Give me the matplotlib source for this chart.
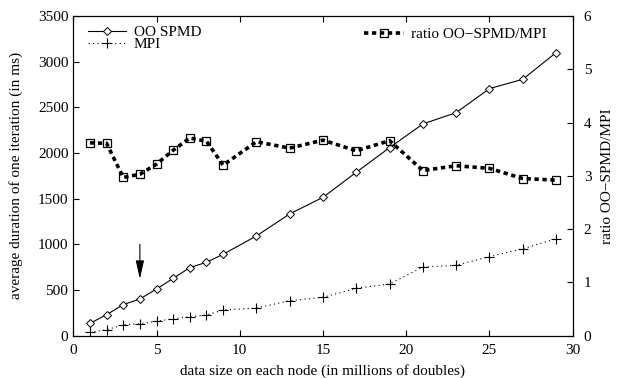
import matplotlib
matplotlib.use("Agg")
import matplotlib.pyplot as plt

plt.rcParams['font.family'] = ['Liberation Serif', 'DejaVu Serif']
plt.rcParams['font.size'] = 11

# --- data ---
sizes = [1, 2, 3, 4, 5, 6, 7, 8, 9, 11, 13, 15, 17, 19, 21, 23, 25, 27, 29]
oo_spmd = [135, 230, 340, 402, 511, 628, 745, 804, 891, 1092, 1333, 1515,
           1789, 2059, 2318, 2442, 2705, 2807, 3099]
mpi = [37, 65, 120, 131, 157, 186, 205, 227, 281, 303, 383, 420,
       519, 566, 752, 771, 865, 952, 1062]
ratio = [3.62, 3.61, 2.97, 3.03, 3.22, 3.48, 3.71, 3.65, 3.20, 3.64, 3.52,
         3.67, 3.47, 3.66, 3.10, 3.19, 3.14, 2.95, 2.92]

fig = plt.figure(figsize=(6.18, 3.78), dpi=100)
ax = fig.add_axes([0.1186, 0.1119, 0.8081, 0.8458])
ax2 = ax.twinx()

ax.plot(sizes, oo_spmd, "-", color="black", lw=0.8, marker="D", ms=4,
        mfc="white", mec="black", mew=0.7, label="OO SPMD")
ax.plot(sizes, mpi, linestyle=(0, (1, 3)), color="black", lw=0.8, marker="+",
        ms=7, mew=0.8, label="MPI")

ax2.plot(sizes, ratio, linestyle=(0, (1.2, 1.0)), color="black", lw=2.6,
         marker="s", ms=6, mfc="none", mec="black", mew=0.9,
         label="ratio OO\u2212SPMD/MPI")

# arrow pointing at size 4
ax.annotate("", xy=(4, 590), xytext=(4, 1030),
            arrowprops=dict(arrowstyle="-|>,head_length=0.8,head_width=0.18",
                            color="black", lw=0.8, mutation_scale=14))

ax.set_xlim(0, 30)
ax.set_ylim(0, 3500)
ax2.set_ylim(0, 6)
ax.set_xticks(range(0, 31, 5))
ax.set_yticks(range(0, 3501, 500))
ax2.set_yticks(range(0, 7))

ax.set_xlabel("data size on each node (in millions of doubles)", labelpad=5)
ax.set_ylabel("average duration of one iteration (in ms)", labelpad=11)
ax2.set_ylabel("ratio OO\u2212SPMD/MPI", labelpad=7)

ax.tick_params(axis="both", direction="in", length=4, width=0.8, top=True,
               right=False, labelsize=11)
ax.tick_params(axis="x", pad=6)
ax2.tick_params(axis="y", direction="in", length=4, width=0.8, labelsize=11,
                pad=8)
for a in (ax, ax2):
    for s in a.spines.values():
        s.set_linewidth(0.8)

ax.legend(loc="upper left", bbox_to_anchor=(0.014, 0.994), frameon=False,
          handlelength=2.5, borderaxespad=0.2, labelspacing=-0.1,
          handletextpad=0.5, borderpad=0.3, fontsize=11)
ax2.legend(loc="upper right", bbox_to_anchor=(0.964, 0.9875), frameon=False,
           handlelength=2.6, borderaxespad=0.2, handletextpad=0.5,
           borderpad=0.3, fontsize=11)

fig.savefig("out.png", dpi=100)
